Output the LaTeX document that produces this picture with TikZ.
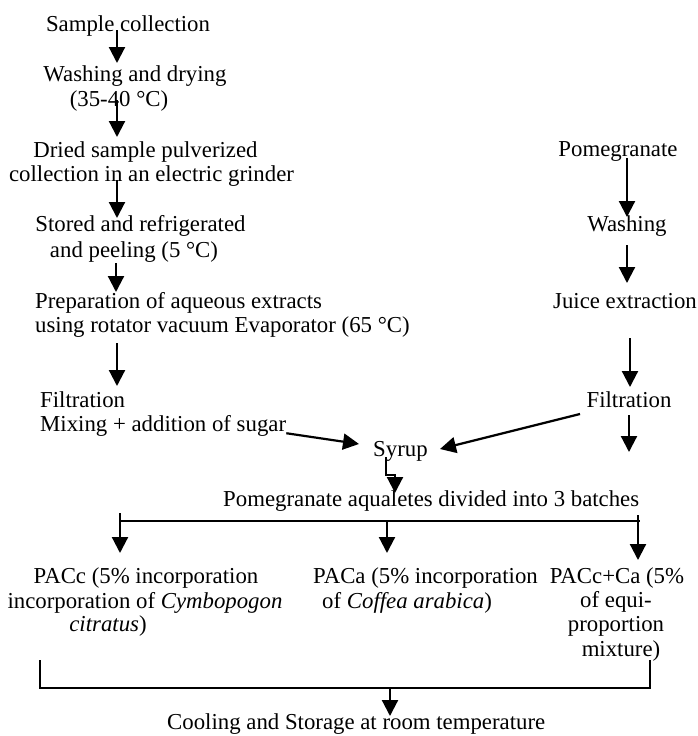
\documentclass[tikz,border=0pt]{standalone}
\usepackage{fontspec}
\setmainfont{Liberation Serif}
\usetikzlibrary{arrows.meta,calc}
\begin{document}
\begin{tikzpicture}[x=1pt,y=-1pt,
  lbl/.style={inner sep=0pt,anchor=mid,yshift=-4.5pt,font=\fontsize{22.8}{24}\selectfont},
  lblw/.style={lbl,anchor=mid west},
  arr/.style={line width=2.2pt,-{Triangle[length=16pt,width=16pt]}},
  ln/.style={line width=2.2pt}]
\useasboundingbox (0,0) rectangle (697,736);
% left column
\node[lbl] (sc) at (128,25) {Sample collection};
\node[lbl] (wd1) at (135,75) {Washing and drying};
\node[lbl] (wd2) at (119,100) {(35-40 °C)};
\node[lbl] (dr1) at (145.5,151) {Dried sample pulverized};
\node[lbl] (dr2) at (151.5,175) {collection in an electric grinder};
\node[lbl] (st1) at (140.5,225) {Stored and refrigerated};
\node[lbl] (st2) at (134,251) {and peeling (5 °C)};
\node[lblw] (pr1) at (35,302) {Preparation of aqueous extracts};
\node[lblw] (pr2) at (35,326) {using rotator vacuum Evaporator (65 °C)};
\node[lblw] (fl1) at (40,401) {Filtration};
\node[lblw] (fl2) at (40,425) {Mixing + addition of sugar};
% right column
\node[lbl] (pom) at (618,150) {Pomegranate};
\node[lbl] (wash) at (627,225) {Washing};
\node[lbl] (juice) at (625,302) {Juice extraction};
\node[lbl] (filt) at (629,401) {Filtration};
% merge
\node[lblw] (syr) at (373,450) {Syrup};
\node[lblw] (pad) at (223,500) {Pomegranate aqualetes divided into 3 batches};
\node[lbl] (c1) at (146,577) {PACc (5\% incorporation};
\node[lbl] (c2) at (145,602) {incorporation of \textit{Cymbopogon}};
\node[lbl] (c3) at (108,625) {\textit{citratus})};
\node[lblw] (a1) at (313,577) {PACa (5\% incorporation};
\node[lblw] (a2) at (322,602) {of \textit{Coffea arabica})};
\node[lbl] (m1) at (617,577) {PACc+Ca (5\%};
\node[lbl] (m2) at (616,601) {of equi-};
\node[lbl] (m3) at (616,625) {proportion};
\node[lbl] (m4) at (621,650) {mixture)};
\node[lblw] (cool) at (167,723) {Cooling and Storage at room temperature};
% connector coordinates
\coordinate (p1s) at (117,30);  \coordinate (p1e) at (117,63);
\coordinate (p2s) at (117,100); \coordinate (p2e) at (117,137);
\coordinate (p3s) at (117,180); \coordinate (p3e) at (117,218);
\coordinate (p4s) at (116,263); \coordinate (p4e) at (116,292);
\coordinate (p5s) at (117,343); \coordinate (p5e) at (117,386);
\coordinate (q1s) at (627,158); \coordinate (q1e) at (627,217);
\coordinate (q2s) at (627,245); \coordinate (q2e) at (627,283);
\coordinate (q3s) at (630,338); \coordinate (q3e) at (630,387);
\coordinate (q4s) at (629,415); \coordinate (q4e) at (629,452);
\coordinate (ls) at ($(fl2.east)+(0,7)$);  \coordinate (le) at (359,444);
\coordinate (rs) at (580,414);  \coordinate (re) at (440,449);
\coordinate (ys) at (386,457);  \coordinate (ym) at (395,475); \coordinate (ye) at (395,493);
\coordinate (bl) at (120,521);  \coordinate (br) at (640,521);
\coordinate (blt) at (120,513); \coordinate (ble) at (120,553);
\coordinate (bm) at (387,521);  \coordinate (bme) at (387,553);
\coordinate (brt) at (638,515); \coordinate (bre) at (638,560);
\coordinate (kl) at (40,660);   \coordinate (kr) at (650,660);
\coordinate (kls) at (40,688);  \coordinate (krs) at (650,688);
\coordinate (km) at (390,688);  \coordinate (kme) at (390,716);
% arrows
\draw[arr] (p1s) -- (p1e);
\draw[arr] (p2s) -- (p2e);
\draw[arr] (p3s) -- (p3e);
\draw[arr] (p4s) -- (p4e);
\draw[arr] (p5s) -- (p5e);
\draw[arr] (q1s) -- (q1e);
\draw[arr] (q2s) -- (q2e);
\draw[arr] (q3s) -- (q3e);
\draw[arr] (q4s) -- (q4e);
\draw[arr] (ls) -- (le);
\draw[arr] (rs) -- (re);
\draw[arr] (ys) |- (ym) -- (ye);
\draw[ln] (bl) -- (br);
\draw[arr] (blt) -- (ble);
\draw[arr] (bm) -- (bme);
\draw[arr] (brt) -- (bre);
\draw[ln] (kl) -- (kls) -- (krs) -- (kr);
\draw[arr] (km) -- (kme);
\end{tikzpicture}
\end{document}
